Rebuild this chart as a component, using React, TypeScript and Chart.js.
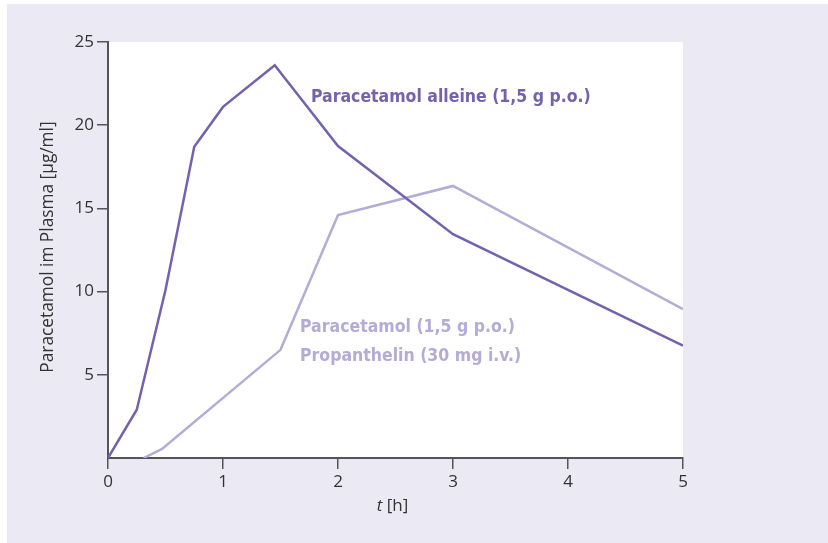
import React, { useEffect, useRef } from "react";
import { Chart, registerables } from "chart.js";

Chart.register(...registerables);

// Data
const timeAlone = [0, 0.25, 0.5, 0.75, 1.0, 1.45, 2.0, 3.0, 5.0];
const plasmaAlone = [0, 2.9, 10.1, 18.7, 21.1, 23.6, 18.75, 13.45, 6.75];
const timeCombo = [0.31, 0.47, 1.5, 2.0, 3.0, 5.0];
const plasmaCombo = [0, 0.55, 6.5, 14.6, 16.35, 8.95];

const xTicks = [0, 1, 2, 3, 4, 5];
const yTicks = [5, 10, 15, 20, 25];

const labelAlone = "Paracetamol alleine (1,5 g p.o.)";
const labelCombo = ["Paracetamol (1,5 g p.o.)", "Propanthelin (30 mg i.v.)"];
const yTitle = "Paracetamol im Plasma [µg/ml]";
const xTitleVar = "t";
const xTitleUnit = " [h]";

const DARK = "#7462ad";
const LIGHT = "#b4abd6";
const AXIS = "#555555";
const TEXT = "#333333";
const BG = "#ebe9f4";
const TICK_FONT = "'Open Sans', 'Noto Sans', sans-serif";
const LABEL_FONT = "'Liberation Sans Narrow', 'DejaVu Sans Condensed', sans-serif";

const decor = {
  id: "decor",
  beforeDraw(chart: any) {
    const ctx = chart.ctx;
    const { left, top, right, bottom } = chart.chartArea;
    ctx.save();
    ctx.fillStyle = BG;
    ctx.fillRect(7, 4, chart.width - 7, chart.height - 4);
    ctx.fillStyle = "#ffffff";
    ctx.fillRect(left, top, right - left, bottom - top);
    ctx.restore();
  },
  afterDraw(chart: any) {
    const ctx = chart.ctx;
    const xs = chart.scales.x;
    const ys = chart.scales.y;
    const { left, right, top, bottom } = chart.chartArea;
    ctx.save();
    // series labels
    ctx.textBaseline = "alphabetic";
    ctx.textAlign = "left";
    ctx.font = `bold 17.5px ${LABEL_FONT}`;
    ctx.fillStyle = DARK;
    ctx.fillText(labelAlone, xs.getPixelForValue(1.765), ys.getPixelForValue(21.4));
    ctx.fillStyle = LIGHT;
    ctx.fillText(labelCombo[0], xs.getPixelForValue(1.67), ys.getPixelForValue(7.55));
    ctx.fillText(labelCombo[1], xs.getPixelForValue(1.67), ys.getPixelForValue(5.8));

    // x title
    ctx.fillStyle = TEXT;
    ctx.font = `italic 17px ${TICK_FONT}`;
    const wVar = ctx.measureText(xTitleVar).width;
    ctx.font = `17px ${TICK_FONT}`;
    const wUnit = ctx.measureText(xTitleUnit).width;
    const cx = (left + right) / 2 - 3;
    const x0 = cx - (wVar + wUnit) / 2;
    ctx.font = `italic 17px ${TICK_FONT}`;
    ctx.fillText(xTitleVar, x0, bottom + 53);
    ctx.font = `17px ${TICK_FONT}`;
    ctx.fillText(xTitleUnit, x0 + wVar, bottom + 53);

    // y title
    ctx.translate(53, (top + bottom) / 2 - 3);
    ctx.rotate(-Math.PI / 2);
    ctx.textAlign = "center";
    ctx.font = `17.3px ${TICK_FONT}`;
    ctx.fillText(yTitle, 0, 0);
    ctx.restore();
  },
};

export default function App() {
  const ref = useRef<HTMLCanvasElement | null>(null);

  useEffect(() => {
    if (!ref.current) return;
    const chart = new Chart(ref.current, {
      type: "line",
      data: {
        datasets: [
          {
            label: labelAlone,
            data: timeAlone.map((t, i) => ({ x: t, y: plasmaAlone[i] })),
            borderColor: DARK,
            borderWidth: 2.5,
            pointRadius: 0,
            tension: 0,
            fill: false,
          },
          {
            label: labelCombo.join(" / "),
            data: timeCombo.map((t, i) => ({ x: t, y: plasmaCombo[i] })),
            borderColor: LIGHT,
            borderWidth: 2.5,
            pointRadius: 0,
            tension: 0,
            fill: false,
          },
        ],
      },
      options: {
        animation: false,
        responsive: false,
        devicePixelRatio: 1,
        layout: { padding: { left: 0, top: 42, right: 145, bottom: 45 } },
        plugins: {
          legend: { display: false },
          tooltip: { enabled: false },
        },
        scales: {
          x: {
            type: "linear",
            min: 0,
            max: 5,
            afterFit: (s: any) => {
              s.height = 40;
            },
            afterBuildTicks: (s: any) => {
              s.ticks = xTicks.map((v) => ({ value: v }));
            },
            ticks: {
              color: TEXT,
              font: { family: TICK_FONT, size: 17 },
              padding: 3,
              maxRotation: 0,
              autoSkip: false,
            },
            grid: {
              drawOnChartArea: false,
              drawTicks: true,
              tickLength: 11,
              color: AXIS,
              lineWidth: 1.5,
            },
            border: { color: AXIS, width: 2 },
          },
          y: {
            type: "linear",
            min: 0,
            max: 25,
            afterFit: (s: any) => {
              s.width = 108;
            },
            afterBuildTicks: (s: any) => {
              s.ticks = [0, ...yTicks].map((v) => ({ value: v }));
            },
            ticks: {
              color: TEXT,
              font: { family: TICK_FONT, size: 17 },
              padding: 3,
              autoSkip: false,
              callback: (v: any) => (v === 0 ? "" : String(v)),
            },
            grid: {
              drawOnChartArea: false,
              drawTicks: true,
              tickLength: 11,
              color: (c: any) => (c.tick && c.tick.value === 0 ? "rgba(0,0,0,0)" : AXIS),
              lineWidth: 1.5,
            },
            border: { color: AXIS, width: 2 },
          },
        },
      },
      plugins: [decor],
    } as any);
    return () => chart.destroy();
  }, []);

  return (
    <div style={{ position: "absolute", left: 0, top: 0, width: 828, height: 543 }}>
      <canvas ref={ref} width={828} height={543} style={{ display: "block", width: 828, height: 543 }} />
    </div>
  );
}
